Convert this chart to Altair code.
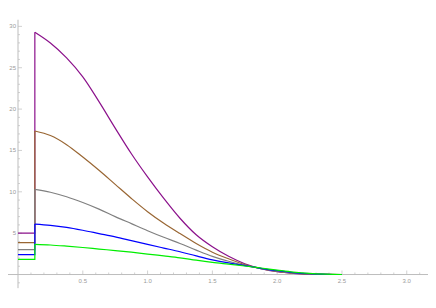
import altair as alt
import pandas as pd

# ---- data ----
SERIES = ["purple", "brown", "gray", "blue", "green"]
COLORS = ["#8b108b", "#996633", "#808080", "#0000ff", "#00ee00"]
STEP_X = 0.13
LEFT_LEVEL = [5.0, 3.85, 3.0, 2.4, 1.84]

X_CURVE = [0.13, 0.25, 0.375, 0.5, 0.625, 0.75, 0.875, 1.0, 1.125, 1.25,
           1.375, 1.5, 1.625, 1.75, 1.875, 2.0, 2.125, 2.25, 2.375, 2.5]
Y_PURPLE = [29.3, 28.0, 26.2, 23.9, 20.9, 17.7, 14.6, 11.8, 9.2, 6.8,
            4.8, 3.35, 2.2, 1.3, 0.72, 0.35, 0.15, 0.05, 0.01, 0.0]
Y_BROWN = [17.35, 16.8, 15.7, 14.2, 12.6, 10.9, 9.2, 7.6, 6.2, 4.95,
           3.75, 2.7, 1.9, 1.2, 0.72, 0.38, 0.17, 0.06, 0.015, 0.0]
Y_GRAY = [10.3, 9.95, 9.4, 8.7, 7.9, 7.0, 6.15, 5.3, 4.5, 3.75,
          2.95, 2.2, 1.6, 1.12, 0.72, 0.42, 0.2, 0.08, 0.02, 0.0]
Y_BLUE = [6.1, 5.95, 5.7, 5.35, 4.95, 4.55, 4.1, 3.65, 3.2, 2.75,
          2.25, 1.78, 1.4, 1.08, 0.75, 0.46, 0.24, 0.1, 0.03, 0.0]
Y_GREEN = [3.65, 3.57, 3.43, 3.27, 3.08, 2.9, 2.7, 2.47, 2.25, 2.02,
           1.73, 1.47, 1.25, 1.03, 0.79, 0.54, 0.3, 0.13, 0.04, 0.0]
CURVES = [Y_PURPLE, Y_BROWN, Y_GRAY, Y_BLUE, Y_GREEN]

X_TICKS = [0.5, 1.0, 1.5, 2.0, 2.5, 3.0]
X_TICK_LABELS = ["0.5", "1.0", "1.5", "2.0", "2.5", "3.0"]
Y_TICKS = [5, 10, 15, 20, 25, 30]
Y_TICK_LABELS = ["5", "10", "15", "20", "25", "30"]
X_MINOR = [round(i * 0.1, 1) for i in range(1, 32) if i % 5 != 0]
Y_MINOR = [-1] + [i for i in range(1, 31) if i % 5 != 0]

X_DOMAIN = [-0.0772, 3.164]
Y_DOMAIN = [-3.08, 32.22]
X_AXIS_SPAN = [-0.0772, 3.164]
Y_AXIS_SPAN = [-1.65, 30.8]

AXIS_COLOR = "#bdbdbd"
LABEL_COLOR = "#9a9a9a"
FONT = "Liberation Sans"

xs = alt.Scale(domain=X_DOMAIN, nice=False, zero=False)
ys = alt.Scale(domain=Y_DOMAIN, nice=False, zero=False)


def X(field="x"):
    return alt.X(f"{field}:Q", scale=xs, axis=None)


def Y(field="y"):
    return alt.Y(f"{field}:Q", scale=ys, axis=None)


layers = []

# axis lines
xaxis_df = pd.DataFrame({"x": [X_AXIS_SPAN[0]], "x2": [X_AXIS_SPAN[1]], "y": [0]})
layers.append(alt.Chart(xaxis_df).mark_rule(color=AXIS_COLOR, strokeWidth=1).encode(
    x=X(), x2="x2:Q", y=Y()))
yaxis_df = pd.DataFrame({"x": [0], "y": [Y_AXIS_SPAN[0]], "y2": [Y_AXIS_SPAN[1]]})
layers.append(alt.Chart(yaxis_df).mark_rule(color=AXIS_COLOR, strokeWidth=1).encode(
    x=X(), y=Y(), y2="y2:Q"))

# ticks (pointing inward, Mathematica style)
xt = pd.DataFrame({"x": X_TICKS, "y": [0] * len(X_TICKS)})
layers.append(alt.Chart(xt).mark_tick(orient="vertical", size=4, thickness=1,
                                      color=AXIS_COLOR, yOffset=-2).encode(x=X(), y=Y()))
xm = pd.DataFrame({"x": X_MINOR, "y": [0] * len(X_MINOR)})
layers.append(alt.Chart(xm).mark_tick(orient="vertical", size=2, thickness=1,
                                      color=AXIS_COLOR, yOffset=-1).encode(x=X(), y=Y()))
yt = pd.DataFrame({"x": [0] * len(Y_TICKS), "y": Y_TICKS})
layers.append(alt.Chart(yt).mark_tick(orient="horizontal", size=4, thickness=1,
                                      color=AXIS_COLOR, xOffset=2).encode(x=X(), y=Y()))
ym = pd.DataFrame({"x": [0] * len(Y_MINOR), "y": Y_MINOR})
layers.append(alt.Chart(ym).mark_tick(orient="horizontal", size=2, thickness=1,
                                      color=AXIS_COLOR, xOffset=1).encode(x=X(), y=Y()))

# tick labels
xl = pd.DataFrame({"x": X_TICKS, "y": [0] * len(X_TICKS), "t": X_TICK_LABELS})
layers.append(alt.Chart(xl).mark_text(font=FONT, fontSize=6, color=LABEL_COLOR,
                                      align="center", baseline="top", dy=3).encode(
    x=X(), y=Y(), text="t:N"))
yl = pd.DataFrame({"x": [0] * len(Y_TICKS), "y": Y_TICKS, "t": Y_TICK_LABELS})
layers.append(alt.Chart(yl).mark_text(font=FONT, fontSize=6, color=LABEL_COLOR,
                                      align="right", baseline="middle", dx=-2).encode(
    x=X(), y=Y(), text="t:N"))

# curves: left level + jump at STEP_X (linear), then smooth decaying curve
for name, col, lvl, ys_ in zip(SERIES, COLORS, LEFT_LEVEL, CURVES):
    step_df = pd.DataFrame({"x": [0.0, STEP_X, STEP_X],
                            "y": [lvl, lvl, ys_[0]], "i": [0, 1, 2]})
    layers.append(alt.Chart(step_df).mark_line(color=col, strokeWidth=1.2).encode(
        x=X(), y=Y(), order="i:Q"))
    curve_df = pd.DataFrame({"x": X_CURVE, "y": ys_})
    layers.append(alt.Chart(curve_df).mark_line(color=col, strokeWidth=1.2,
                                                interpolate="catmull-rom").encode(
        x=X(), y=Y(), order="x:Q"))

chart = alt.layer(*layers).properties(
    width=420, height=292,
    autosize="none",
    padding=0,
).configure_view(strokeWidth=0)

chart.save("out.html", embed_options={"renderer": "svg", "actions": False})
